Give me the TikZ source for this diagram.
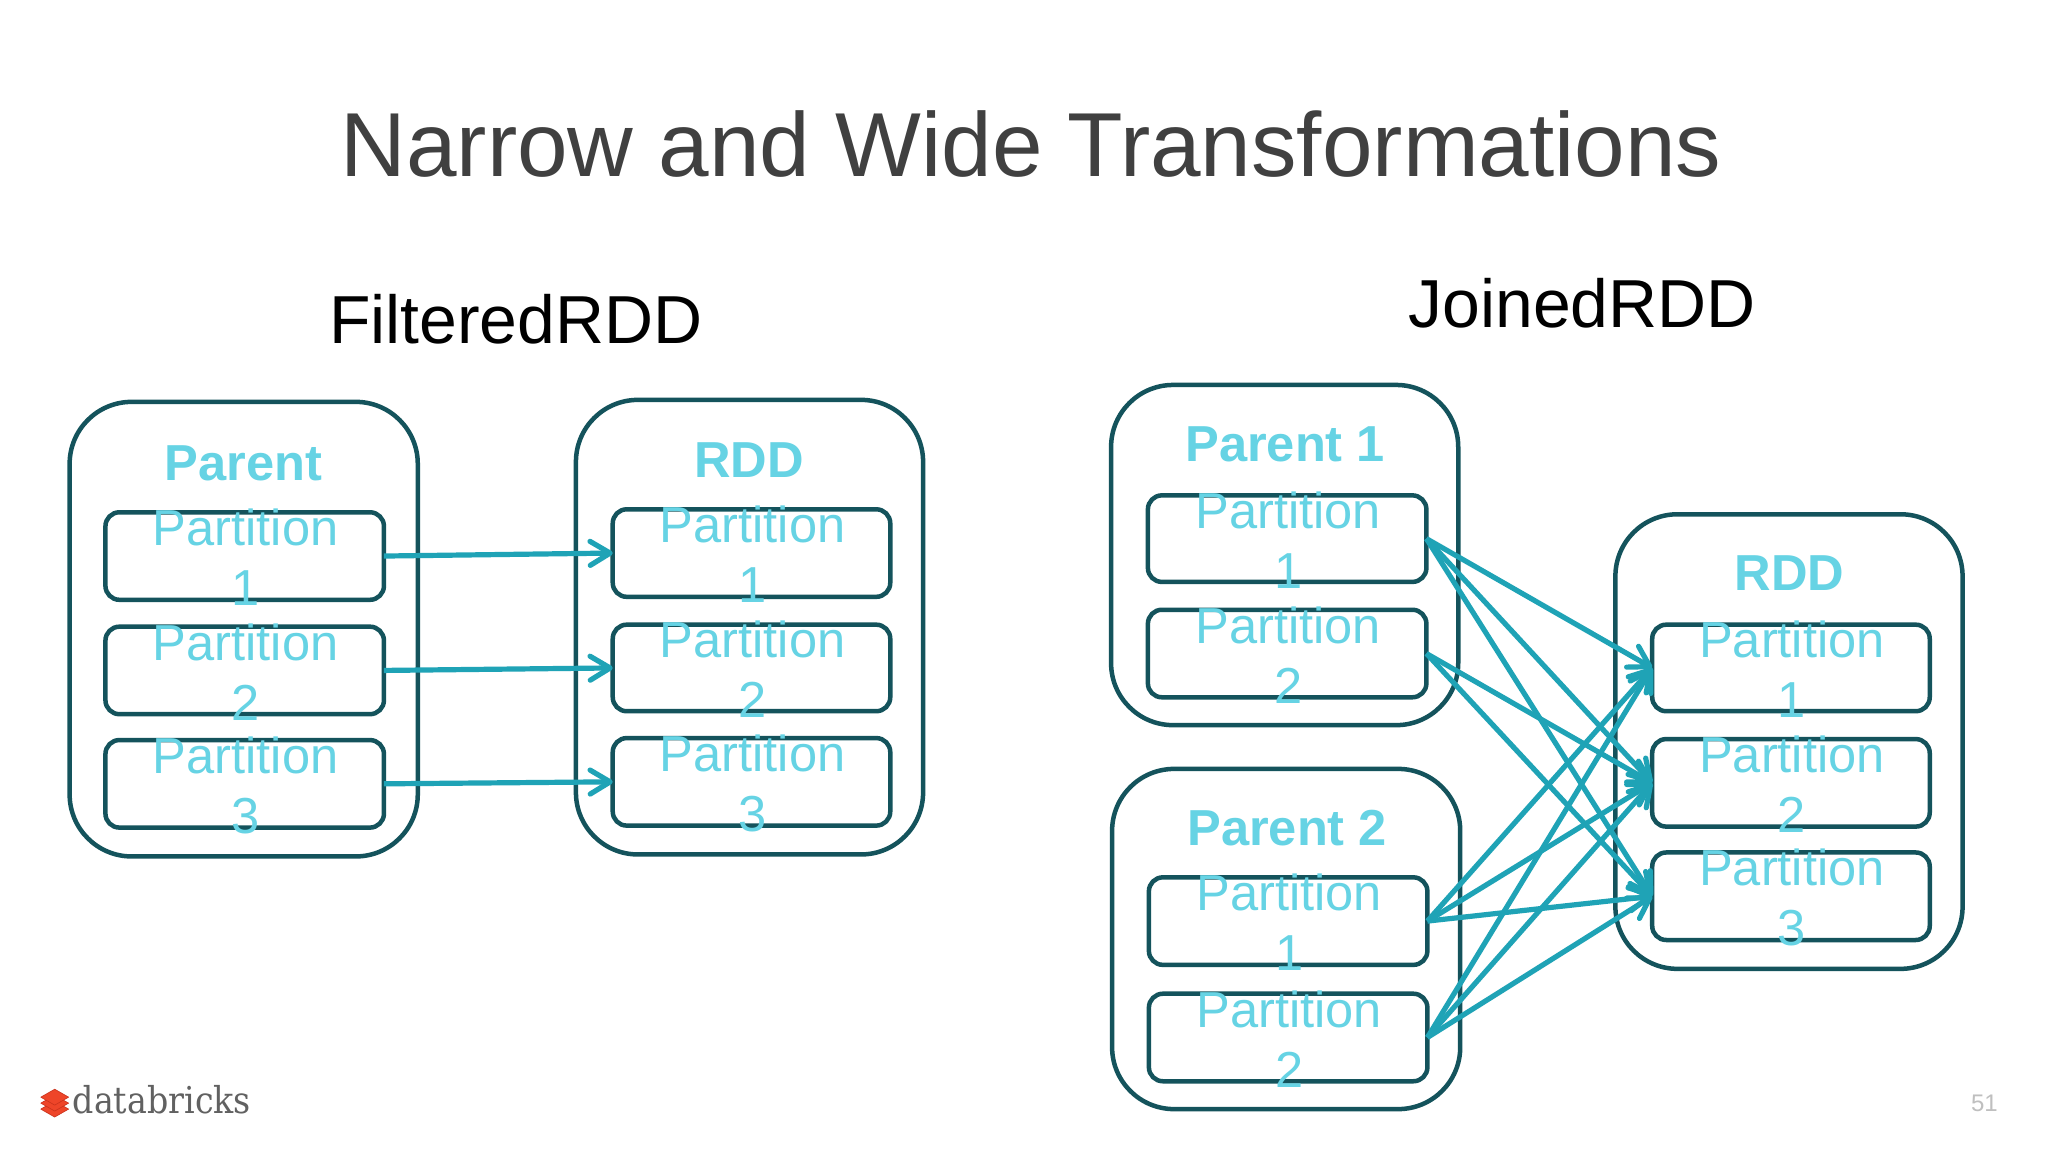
\documentclass[tikz,border=0pt]{standalone}
\usepackage{fontspec}
\setmainfont{Liberation Sans}
\newfontfamily\logofont{DejaVu Serif}
\usetikzlibrary{arrows.meta}
\definecolor{boxline}{HTML}{14535C}
\definecolor{partcol}{HTML}{66D3E4}
\definecolor{arrowcol}{HTML}{1FA3B6}
\definecolor{titlecol}{HTML}{404040}
\definecolor{logored}{HTML}{EE4529}
\definecolor{logodark}{HTML}{C9321C}
\tikzset{
  outerbox/.style={draw=boxline,line width=4.5pt,rounded corners=62pt,inner sep=0pt},
  partbox/.style={draw=boxline,line width=4.5pt,rounded corners=14pt,inner sep=0pt,outer sep=0pt,
    label={[partlabel]center:#1}},
  partlabel/.style={align=center,text=partcol,inner sep=0pt,yshift=-1.5pt,xshift=1pt,font=\fontsize{50.6}{60}\selectfont},
  boxtitle/.style={anchor=base,text=partcol,inner sep=0pt,font=\fontsize{50.6}{60}\selectfont\bfseries},
  flow/.style={draw=arrowcol,line width=5.2pt,-{Straight Barb[length=20pt,width=24pt,line width=5.2pt,round]}},
  heading/.style={anchor=base,inner sep=0pt,font=\fontsize{67.9}{80}\selectfont},
}
\newcommand{\boxat}[6]{\node[#1,minimum width=0.9947*(#4 pt-#3 pt),minimum height=0.9947*(#6 pt-#5 pt)] (#2) at ({(#3+#4)/2},{(#5+#6)/2}) {};}
\newcommand{\partat}[7]{\node[partbox={Partition\\#7},minimum width=0.9947*(#4 pt-#3 pt),minimum height=0.9947*(#6 pt-#5 pt)] (#2) at ({(#3+#4)/2},{(#5+#6)/2}) {};}
\begin{document}
\begin{tikzpicture}[x=0.9947pt,y=-0.9947pt]
\useasboundingbox (0,0) rectangle (2058.9,1158.1);
\fill[white] (0,0) rectangle (2058.9,1158.1);
\node[anchor=base,inner sep=0pt,text=titlecol,font=\fontsize{90.9}{100}\selectfont] (title) at (1036.5,177) {Narrow and Wide Transformations};
\node[heading] (filtered) at (518.5,345.5) {FilteredRDD};
\node[heading] (joined) at (1590.5,329.5) {JoinedRDD};
% left
\boxat{outerbox}{lp}{70}{420}{404}{861}
\boxat{outerbox}{lr}{579}{928}{402}{859}
\node[boxtitle] (lpt) at (245,483) {Parent};
\node[boxtitle] (lrt) at (753,480) {RDD};
\partat{}{lp1}{106}{386}{515}{603}{1}
\partat{}{lp2}{106}{386}{630}{718}{2}
\partat{}{lp3}{106}{386}{744}{832}{3}
\partat{}{lr1}{616}{895}{512}{600}{1}
\partat{}{lr2}{616}{895}{628}{715}{2}
\partat{}{lr3}{616}{895}{742}{830}{3}
% right
\boxat{outerbox}{p1}{1117}{1466}{387}{729}
\boxat{outerbox}{p2}{1118}{1468}{773}{1115}
\boxat{outerbox}{rr}{1624}{1973}{517}{974}
\node[boxtitle] (p1t) at (1292,464) {Parent 1};
\node[boxtitle] (p2t) at (1294,850) {Parent 2};
\node[boxtitle] (rrt) at (1799,594) {RDD};
\partat{}{a1}{1154}{1434}{498}{585}{1}
\partat{}{a2}{1154}{1434}{613}{701}{2}
\partat{}{b1}{1155}{1435}{882}{970}{1}
\partat{}{b2}{1155}{1435}{999}{1087}{2}
\partat{}{r1}{1661}{1940}{628}{715}{1}
\partat{}{r2}{1661}{1940}{743}{831}{2}
\partat{}{r3}{1661}{1940}{857}{945}{3}
% arrows
\draw[flow] (lp1.east) -- (lr1.west);
\draw[flow] (lp2.east) -- (lr2.west);
\draw[flow] (lp3.east) -- (lr3.west);
\foreach \s/\t in {a1/r1,a1/r2,a1/r3,a2/r2,a2/r3,b1/r1,b1/r2,b1/r3,b2/r1,b2/r2,b2/r3}
  \draw[flow] (\s.east) -- (\t.west);
% logo
\foreach \yy/\cc in {1115/logored,1109/logored,1103/logored}
  \fill[\cc,draw=logodark,line width=0.6pt,line join=round] (41,\yy) -- (55,{\yy-8}) -- (69,\yy) -- (55,{\yy+8}) -- cycle;
\node[anchor=base west,inner sep=0pt,text=black!62,xscale=0.9,transform shape,font=\logofont\fontsize{37}{42}\selectfont] (logo) at (73,1119) {databricks};
\node[anchor=base,inner sep=0pt,text=black!25,font=\fontsize{24}{28}\selectfont] (page) at (1995,1117) {51};
\end{tikzpicture}
\end{document}
